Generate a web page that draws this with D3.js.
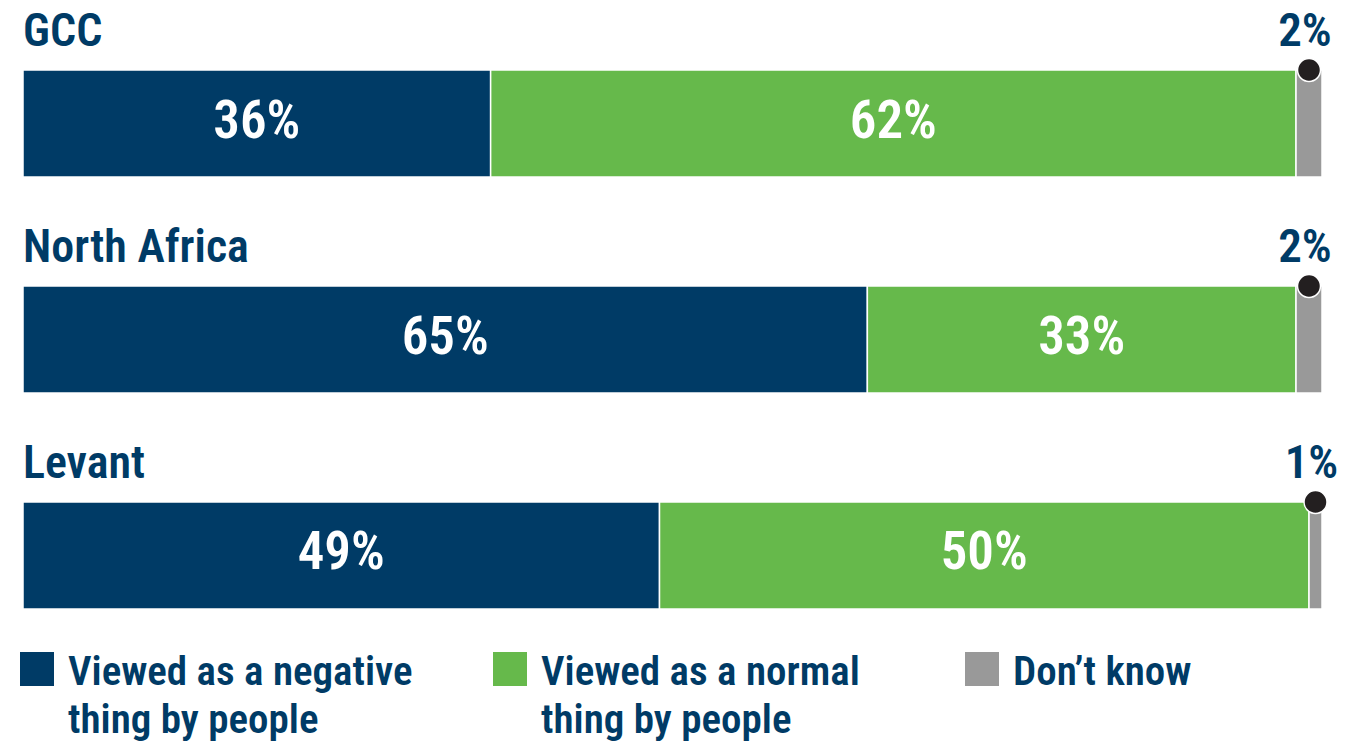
<!DOCTYPE html>
<html>
<head>
<meta charset="utf-8">
<script src="https://cdn.jsdelivr.net/npm/d3@7/dist/d3.min.js"></script>
<style>
  html, body { margin: 0; padding: 0; background: #ffffff; }
  svg text { font-family: "Liberation Sans Narrow", "Arial Narrow", "Roboto Condensed", "DejaVu Sans Condensed", sans-serif; font-weight: 600; }
</style>
</head>
<body>
<svg id="chart" width="1366" height="743"></svg>
<script>
// Regions and response shares (percent)
const regions = ["GCC", "North Africa", "Levant"];
const negative = [36, 65, 49];
const normal = [62, 33, 50];
const dontKnow = [2, 2, 1];
const seriesNames = ["Viewed as a negative thing by people", "Viewed as a normal thing by people", "Don\u2019t know"];
const seriesKeys = ["negative", "normal", "dontKnow"];

const colors = { negative: "#003b66", normal: "#66b94b", dontKnow: "#999999" };
const textColor = "#003b66";

const rows = regions.map((r, i) => ({ region: r, negative: negative[i], normal: normal[i], dontKnow: dontKnow[i] }));
const stacked = d3.stack().keys(seriesKeys)(rows);

const svg = d3.select("#chart");

const x = d3.scaleLinear().domain([0, 100]).range([23, 1322]);
const y = d3.scaleBand().domain(regions).range([70, 609]).paddingInner(0.5046).paddingOuter(0);

// Stacked segments
svg.append("g").selectAll("g")
  .data(stacked)
  .join("g")
  .attr("fill", d => colors[d.key])
  .selectAll("rect")
  .data(d => d.map(v => ({ v, region: v.data.region })))
  .join("rect")
  .attr("x", d => x(d.v[0]))
  .attr("y", d => y(d.region))
  .attr("width", d => Math.max(0, x(d.v[1]) - x(d.v[0])))
  .attr("height", y.bandwidth())
  .attr("stroke", "#ffffff")
  .attr("stroke-width", 1.5);

// Value labels inside the two main segments
const inner = stacked.filter(s => s.key !== "dontKnow");
svg.append("g").selectAll("g")
  .data(inner)
  .join("g")
  .selectAll("text")
  .data(d => d.map(v => ({ v, region: v.data.region, val: v[1] - v[0] })))
  .join("text")
  .attr("x", d => (x(d.v[0]) + x(d.v[1])) / 2)
  .attr("y", d => y(d.region) + y.bandwidth() / 2 + 14)
  .attr("text-anchor", "middle")
  .attr("fill", "#ffffff")
  .attr("font-size", 53)
  .text(d => d.val + "%");

// Region titles
svg.append("g").selectAll("text")
  .data(regions)
  .join("text")
  .attr("x", 23)
  .attr("y", d => y(d) - 24)
  .attr("fill", textColor)
  .attr("font-size", 46)
  .text(d => d);

// "Don't know" markers: dot on top of the thin segment plus its value
const dk = stacked.find(s => s.key === "dontKnow");
const dkG = svg.append("g");
dkG.selectAll("circle")
  .data(dk)
  .join("circle")
  .attr("cx", d => (x(d[0]) + x(d[1])) / 2)
  .attr("cy", d => y(d.data.region))
  .attr("r", 11.5)
  .attr("fill", "#231f20")
  .attr("stroke", "#ffffff")
  .attr("stroke-width", 1.5);
dkG.selectAll("text")
  .data(dk)
  .join("text")
  .attr("x", d => (x(d[0]) + x(d[1])) / 2 - 4)
  .attr("y", d => y(d.data.region) - 24)
  .attr("text-anchor", "middle")
  .attr("fill", textColor)
  .attr("font-size", 47)
  .text(d => (d[1] - d[0]) + "%");

// Legend
const legendX = [20, 493, 965];
const legend = svg.append("g").selectAll("g")
  .data(seriesKeys)
  .join("g")
  .attr("transform", (d, i) => `translate(${legendX[i]},652)`);
legend.append("rect")
  .attr("width", 34).attr("height", 34)
  .attr("fill", d => colors[d]);
legend.append("text")
  .attr("x", 48)
  .attr("y", 33)
  .attr("fill", textColor)
  .attr("font-size", 41)
  .each(function(d, i) {
    const name = seriesNames[i];
    const m = name.match(/^(.*?)\s(thing by people)$/);
    const lines = m ? [m[1], m[2]] : [name];
    d3.select(this).selectAll("tspan")
      .data(lines)
      .join("tspan")
      .attr("x", 48)
      .attr("dy", (l, j) => j === 0 ? 0 : 48)
      .text(l => l);
  });
</script>
</body>
</html>
